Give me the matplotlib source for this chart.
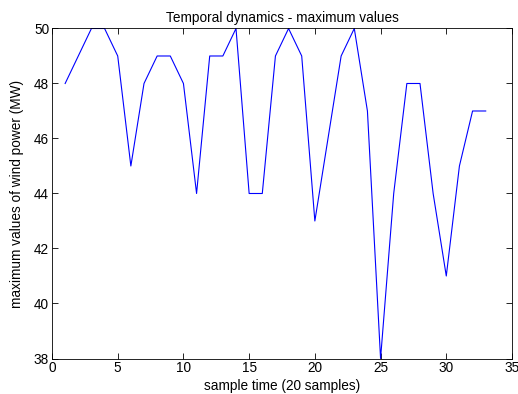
import matplotlib
matplotlib.use("Agg")
import matplotlib.pyplot as plt

# sample index and maximum wind power values (MW)
sample_time = list(range(1, 34))
max_power = [48, 49, 50, 50, 49, 45, 48, 49, 49, 48, 44, 49, 49, 50, 44, 44,
             49, 50, 49, 43, 46, 49, 50, 47, 38, 44, 48, 48, 44, 41, 45, 47, 47]

x_ticks = [0, 5, 10, 15, 20, 25, 30, 35]
y_ticks = [38, 40, 42, 44, 46, 48, 50]

plt.rcParams['font.family'] = ['Liberation Sans', 'DejaVu Sans']
plt.rcParams['font.size'] = 9.8

fig = plt.figure(figsize=(5.18, 3.94), dpi=100)
ax = fig.add_axes([0.1004, 0.0901, 0.8880, 0.8376])

ax.plot(sample_time, max_power, color='#0000ff', linewidth=0.8)

ax.set_xlim(0, 35)
ax.set_ylim(38, 50)
ax.set_xticks(x_ticks)
ax.set_yticks(y_ticks)
ax.tick_params(direction='in', top=True, right=True, length=4, width=0.6,
               labelsize=9.8, pad=2)
for s in ax.spines.values():
    s.set_linewidth(0.6)

ax.set_title('Temporal dynamics - maximum values', fontsize=9.8, pad=5)
ax.set_xlabel('sample time (20 samples)', fontsize=9.8, labelpad=3)
ax.set_ylabel('maximum values of wind power (MW)', fontsize=9.8, labelpad=7)

fig.savefig('out.png', dpi=100)
